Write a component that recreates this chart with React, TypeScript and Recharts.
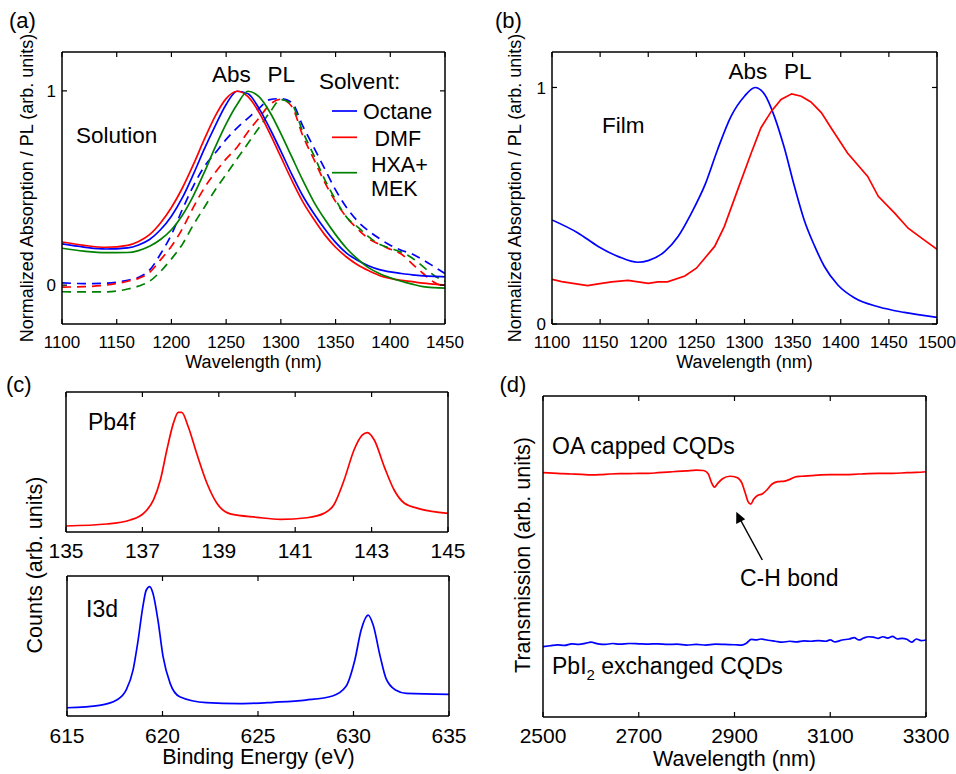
import React from 'react';
import { LineChart, Line, XAxis, YAxis } from 'recharts';

const FONT = '"Liberation Sans", Arial, Helvetica, sans-serif';
const RED = '#ff0000';
const BLUE = '#0000ff';
const GREEN = '#008000';

// ---------- Panel (a): solution Abs / PL ----------
const solWl = [1100, 1120, 1140, 1160, 1170, 1180, 1190, 1200, 1210, 1220, 1230, 1240, 1250, 1260, 1270, 1280, 1290, 1300, 1310, 1320, 1330, 1340, 1350, 1360, 1370, 1380, 1390, 1400, 1410, 1420, 1430, 1440, 1450];
const octaneAbs = [0.212, 0.196, 0.186, 0.192, 0.207, 0.235, 0.285, 0.355, 0.45, 0.57, 0.7, 0.82, 0.93, 0.998, 0.985, 0.91, 0.805, 0.69, 0.57, 0.46, 0.37, 0.29, 0.22, 0.165, 0.128, 0.1, 0.08, 0.068, 0.06, 0.053, 0.048, 0.045, 0.043];
const dmfAbs = [0.222, 0.205, 0.195, 0.205, 0.225, 0.26, 0.32, 0.4, 0.5, 0.62, 0.75, 0.87, 0.96, 0.998, 0.97, 0.89, 0.78, 0.66, 0.54, 0.43, 0.34, 0.26, 0.195, 0.145, 0.105, 0.075, 0.05, 0.035, 0.025, 0.018, 0.01, 0.005, 0.0];
const hxaAbs = [0.19, 0.175, 0.167, 0.168, 0.178, 0.2, 0.235, 0.285, 0.36, 0.46, 0.58, 0.71, 0.83, 0.93, 0.998, 0.97, 0.89, 0.78, 0.66, 0.54, 0.43, 0.34, 0.26, 0.19, 0.135, 0.09, 0.06, 0.038, 0.02, 0.005, -0.008, -0.013, -0.015];
const octanePL = [0.012, 0.008, 0.01, 0.025, 0.04, 0.077, 0.16, 0.26, 0.39, 0.51, 0.61, 0.68, 0.75, 0.81, 0.86, 0.91, 0.955, 0.96, 0.94, 0.82, 0.71, 0.6, 0.49, 0.4, 0.33, 0.28, 0.24, 0.205, 0.18, 0.16, 0.13, 0.095, 0.06];
const dmfPL = [-0.01, -0.008, 0.0, 0.02, 0.035, 0.065, 0.13, 0.2, 0.29, 0.4, 0.5, 0.58, 0.65, 0.71, 0.79, 0.86, 0.93, 0.957, 0.92, 0.77, 0.65, 0.53, 0.43, 0.35, 0.29, 0.24, 0.21, 0.185, 0.16, 0.11, 0.06, 0.015, -0.01];
const hxaPL = [-0.034, -0.035, -0.035, -0.02, -0.005, 0.02, 0.07, 0.135, 0.21, 0.31, 0.4, 0.49, 0.57, 0.65, 0.73, 0.81, 0.89, 0.955, 0.93, 0.79, 0.67, 0.545, 0.44, 0.35, 0.3, 0.25, 0.21, 0.19, 0.17, 0.14, 0.095, 0.05, 0.02];
const aXTicks = [1100, 1150, 1200, 1250, 1300, 1350, 1400, 1450];
const abYTicks = [0, 1];

// ---------- Panel (b): film Abs / PL ----------
const filmAbsWl = [1100, 1127, 1148, 1169, 1189, 1200, 1217, 1231, 1245, 1259, 1272, 1286, 1300, 1311, 1321, 1331, 1341, 1352, 1362, 1373, 1383, 1397, 1414, 1439, 1466, 1500];
const filmAbs = [0.44, 0.385, 0.328, 0.285, 0.261, 0.268, 0.306, 0.37, 0.47, 0.589, 0.737, 0.878, 0.963, 1.0, 0.97, 0.878, 0.75, 0.58, 0.44, 0.328, 0.243, 0.165, 0.111, 0.073, 0.049, 0.028];
const filmPLWl = [1100, 1110, 1137, 1148, 1162, 1179, 1200, 1210, 1220, 1238, 1250, 1269, 1279, 1293, 1307, 1317, 1328, 1338, 1349, 1359, 1369, 1380, 1390, 1407, 1428, 1439, 1456, 1470, 1484, 1500];
const filmPL = [0.189, 0.179, 0.162, 0.17, 0.178, 0.184, 0.172, 0.178, 0.178, 0.203, 0.236, 0.328, 0.412, 0.568, 0.723, 0.829, 0.9, 0.949, 0.973, 0.963, 0.939, 0.893, 0.829, 0.723, 0.624, 0.54, 0.469, 0.405, 0.363, 0.316];
const bXTicks = [1100, 1150, 1200, 1250, 1300, 1350, 1400, 1450, 1500];

// ---------- Panel (c): XPS ----------
const pbE = [135, 136.07, 136.68, 137.03, 137.29, 137.47, 137.64, 137.81, 137.94, 138.03, 138.2, 138.42, 138.69, 138.95, 139.3, 140.0, 140.61, 141.31, 141.75, 142.01, 142.28, 142.54, 142.76, 142.89, 143.07, 143.33, 143.59, 143.86, 144.21, 145];
const pbCounts = [0.043, 0.057, 0.086, 0.133, 0.229, 0.371, 0.586, 0.776, 0.855, 0.855, 0.752, 0.562, 0.348, 0.205, 0.129, 0.105, 0.09, 0.102, 0.133, 0.193, 0.371, 0.586, 0.693, 0.71, 0.657, 0.467, 0.3, 0.205, 0.169, 0.133];
const pbTicks = [135, 137, 139, 141, 143, 145];
const iE = [615, 616.7, 617.6, 618.1, 618.46, 618.7, 618.97, 619.15, 619.33, 619.5, 619.76, 620.03, 620.4, 620.9, 622.3, 624.04, 625.8, 627.5, 628.9, 629.6, 630.07, 630.4, 630.77, 631.03, 631.4, 631.7, 632.2, 632.77, 635];
const iCounts = [0.059, 0.076, 0.114, 0.186, 0.329, 0.52, 0.78, 0.9, 0.924, 0.876, 0.686, 0.424, 0.233, 0.138, 0.095, 0.088, 0.098, 0.114, 0.143, 0.21, 0.4, 0.614, 0.721, 0.65, 0.424, 0.269, 0.186, 0.162, 0.155];
const iTicks = [615, 620, 625, 630, 635];

// ---------- Panel (d): FTIR ----------
const oaWl = [2500, 2520, 2540, 2560, 2580, 2600, 2620, 2640, 2660, 2680, 2700, 2720, 2740, 2760, 2780, 2800, 2820, 2835, 2845, 2852, 2858, 2865, 2875, 2890, 2905, 2915, 2922, 2928, 2934, 2940, 2948, 2958, 2968, 2978, 2990, 3005, 3015, 3025, 3040, 3060, 3080, 3100, 3130, 3160, 3200, 3230, 3260, 3280, 3300];
const oaT = [0.761, 0.76, 0.758, 0.757, 0.756, 0.754, 0.755, 0.757, 0.758, 0.758, 0.759, 0.759, 0.761, 0.763, 0.765, 0.767, 0.769, 0.768, 0.758, 0.73, 0.716, 0.728, 0.742, 0.75, 0.746, 0.73, 0.7, 0.672, 0.663, 0.678, 0.69, 0.695, 0.708, 0.725, 0.733, 0.735, 0.74, 0.747, 0.75, 0.752, 0.754, 0.755, 0.755, 0.757, 0.759, 0.759, 0.761, 0.762, 0.764];
const pbi2Wl = [2500, 2515, 2530, 2545, 2560, 2575, 2590, 2600, 2615, 2630, 2645, 2660, 2680, 2700, 2720, 2740, 2760, 2780, 2800, 2820, 2840, 2860, 2880, 2900, 2915, 2925, 2935, 2945, 2955, 2970, 2985, 3000, 3015, 3030, 3045, 3060, 3075, 3090, 3100, 3110, 3125, 3140, 3150, 3160, 3170, 3180, 3190, 3200, 3210, 3220, 3230, 3240, 3250, 3260, 3270, 3280, 3290, 3300];
const pbi2T = [0.219, 0.222, 0.225, 0.223, 0.228, 0.226, 0.23, 0.233, 0.228, 0.226, 0.229, 0.227, 0.229, 0.228, 0.227, 0.228, 0.226, 0.227, 0.224, 0.226, 0.224, 0.227, 0.226, 0.225, 0.224, 0.23, 0.242, 0.24, 0.243, 0.239, 0.236, 0.233, 0.236, 0.234, 0.237, 0.236, 0.238, 0.236, 0.24, 0.234, 0.24, 0.243, 0.247, 0.24, 0.246, 0.25, 0.249, 0.245, 0.25, 0.246, 0.251, 0.243, 0.245, 0.242, 0.233, 0.243, 0.238, 0.24];
const dTicks = [2500, 2700, 2900, 3100, 3300];

const zip = (xs: number[], ys: number[]) => xs.map((x, i) => ({ x, y: ys[i] }));
const Nothing = () => <g />;

type Series = { data: { x: number; y: number }[]; color: string; dashed?: boolean; linear?: boolean };
type PanelProps = {
  left: number; top: number; width: number; height: number;
  plot: [number, number, number, number];
  xDomain: [number, number]; xTicks: number[];
  yDomain: [number, number]; yTicks?: number[];
  fontSize: number; xTickMargin: number;
  series: Series[];
};

function Panel(p: PanelProps) {
  const [x0, y0, x1, y1] = p.plot;
  const LW = 40, RW = 10, TH = 10, BH = 20;
  const margin = {
    left: x0 - p.left - LW,
    right: p.left + p.width - x1 - RW,
    top: y0 - p.top - TH,
    bottom: p.top + p.height - y1 - BH,
  };
  const axisLine = { stroke: '#000', strokeWidth: 1.5 };
  const tickLine = { stroke: '#000', strokeWidth: 1.2 };
  const tickStyle = { fill: '#000', fontSize: p.fontSize, fontFamily: FONT };
  const hasY = !!p.yTicks;
  return (
    <div style={{ position: 'absolute', left: p.left, top: p.top }}>
      <LineChart width={p.width} height={p.height} margin={margin} style={{ overflow: 'visible' }}>
        <XAxis xAxisId="b" type="number" dataKey="x" domain={p.xDomain} ticks={p.xTicks} interval={0}
          allowDataOverflow height={BH} tickSize={-5} tickMargin={p.xTickMargin}
          axisLine={axisLine} tickLine={tickLine} tick={tickStyle} />
        <XAxis xAxisId="t" orientation="top" type="number" dataKey="x" domain={p.xDomain} ticks={p.xTicks} interval={0}
          allowDataOverflow height={TH} tickSize={-5} axisLine={axisLine} tickLine={tickLine} tick={Nothing} />
        <YAxis yAxisId="l" type="number" domain={p.yDomain} ticks={hasY ? p.yTicks : [p.yDomain[0]]} interval={0}
          allowDataOverflow width={LW} tickSize={-5} tickMargin={11}
          axisLine={axisLine} tickLine={hasY ? tickLine : false} tick={hasY ? tickStyle : Nothing} />
        <YAxis yAxisId="r" orientation="right" type="number" domain={p.yDomain} ticks={hasY ? p.yTicks : [p.yDomain[0]]} interval={0}
          allowDataOverflow width={RW} tickSize={-5}
          axisLine={axisLine} tickLine={hasY ? tickLine : false} tick={Nothing} />
        {p.series.map((s, i) => (
          <Line key={i} xAxisId="b" yAxisId="l" data={s.data} dataKey="y" type={s.linear ? 'linear' : 'monotone'}
            stroke={s.color} strokeWidth={1.7} strokeDasharray={s.dashed ? '9 6' : undefined}
            dot={false} activeDot={false} isAnimationActive={false} />
        ))}
      </LineChart>
    </div>
  );
}

const T = (props: any) => <text fontFamily={FONT} fill="#000" {...props} />;

export default function App() {
  return (
    <div style={{ position: 'absolute', left: 0, top: 0, width: 956, height: 774, background: '#fff', overflow: 'hidden' }}>
      <Panel left={0} top={0} width={478} height={380} plot={[62, 52, 445, 324]}
        xDomain={[1100, 1450]} xTicks={aXTicks} yDomain={[-0.2, 1.2]} yTicks={abYTicks}
        fontSize={17} xTickMargin={17}
        series={[
          { data: zip(solWl, octanePL), color: BLUE, dashed: true },
          { data: zip(solWl, dmfPL), color: RED, dashed: true },
          { data: zip(solWl, hxaPL), color: GREEN, dashed: true },
          { data: zip(solWl, octaneAbs), color: BLUE },
          { data: zip(solWl, dmfAbs), color: RED },
          { data: zip(solWl, hxaAbs), color: GREEN },
        ]} />
      <Panel left={478} top={0} width={478} height={380} plot={[552, 52, 937, 324]}
        xDomain={[1100, 1500]} xTicks={bXTicks} yDomain={[0, 1.15]} yTicks={abYTicks}
        fontSize={17} xTickMargin={17}
        series={[
          { data: zip(filmAbsWl, filmAbs), color: BLUE },
          { data: zip(filmPLWl, filmPL), color: RED, linear: true },
        ]} />
      <Panel left={0} top={560} width={478} height={214} plot={[67, 576, 449, 716]}
        xDomain={[615, 635]} xTicks={iTicks} yDomain={[0, 1]}
        fontSize={21} xTickMargin={17}
        series={[{ data: zip(iE, iCounts), color: BLUE }]} />
      <Panel left={0} top={380} width={478} height={200} plot={[66, 392, 448, 532]}
        xDomain={[135, 145]} xTicks={pbTicks} yDomain={[0, 1]}
        fontSize={21} xTickMargin={16}
        series={[{ data: zip(pbE, pbCounts), color: RED }]} />
      <Panel left={478} top={380} width={478} height={394} plot={[543, 396, 926, 717]}
        xDomain={[2500, 3300]} xTicks={dTicks} yDomain={[0, 1]}
        fontSize={21} xTickMargin={16}
        series={[
          { data: zip(oaWl, oaT), color: RED },
          { data: zip(pbi2Wl, pbi2T), color: BLUE },
        ]} />

      <svg width={956} height={774} style={{ position: 'absolute', left: 0, top: 0, pointerEvents: 'none' }}>
        {/* panel labels */}
        <T x={9} y={28} fontSize={22}>(a)</T>
        <T x={495} y={28} fontSize={22}>(b)</T>
        <T x={6} y={391.5} fontSize={22}>(c)</T>
        <T x={499.5} y={391.5} fontSize={22}>(d)</T>

        {/* panel (a) */}
        <T x={253.5} y={368} fontSize={18} textAnchor="middle">Wavelength (nm)</T>
        <T transform="translate(33,188) rotate(-90)" fontSize={18} textAnchor="middle">Normalized Absorption / PL (arb. units)</T>
        <T x={76} y={143} fontSize={22.5}>Solution</T>
        <T x={212} y={81.7} fontSize={22.5}>Abs</T>
        <T x={267.5} y={81.7} fontSize={22.5}>PL</T>
        <T x={319} y={89.3} fontSize={22.5}>Solvent:</T>
        <line x1={332} y1={111} x2={357} y2={111} stroke={BLUE} strokeWidth={1.7} />
        <line x1={332} y1={137.3} x2={357} y2={137.3} stroke={RED} strokeWidth={1.7} />
        <line x1={332} y1={172.7} x2={357} y2={172.7} stroke={GREEN} strokeWidth={1.7} />
        <T x={363} y={119} fontSize={21.5}>Octane</T>
        <T x={374.5} y={145.7} fontSize={21.5}>DMF</T>
        <T x={371} y={171.7} fontSize={21.5}>HXA+</T>
        <T x={371} y={196} fontSize={21.5}>MEK</T>

        {/* panel (b) */}
        <T x={744.5} y={368} fontSize={18} textAnchor="middle">Wavelength (nm)</T>
        <T transform="translate(521,188) rotate(-90)" fontSize={18} textAnchor="middle">Normalized Absorption / PL (arb. units)</T>
        <T x={728.5} y={79.3} fontSize={22.5}>Abs</T>
        <T x={784} y={79.3} fontSize={22.5}>PL</T>
        <T x={602} y={133.3} fontSize={22.5}>Film</T>

        {/* panel (c) */}
        <T x={258.5} y={764} fontSize={21.5} textAnchor="middle">Binding Energy (eV)</T>
        <T transform="translate(41.5,565) rotate(-90)" fontSize={21.5} textAnchor="middle">Counts (arb. units)</T>
        <T x={88} y={430} fontSize={23}>Pb4f</T>
        <T x={86} y={616.7} fontSize={23}>I3d</T>

        {/* panel (d) */}
        <T x={734.5} y={765.5} fontSize={21.5} textAnchor="middle">Wavelength (nm)</T>
        <T transform="translate(529.5,555) rotate(-90)" fontSize={21.5} textAnchor="middle">Transmission (arb. units)</T>
        <T x={552} y={454} fontSize={23}>OA capped CQDs</T>
        <T x={740} y={586} fontSize={23}>C-H bond</T>
        <T x={552} y={674} fontSize={23}>PbI<tspan fontSize={15} dy={6}>2</tspan><tspan dy={-6}> exchanged CQDs</tspan></T>
        <line x1={762.3} y1={560} x2={740} y2={519} stroke="#000" strokeWidth={1.5} />
        <polygon points="736.3,511.7 736.2,524 745.2,519.3" fill="#000" />
      </svg>
    </div>
  );
}
